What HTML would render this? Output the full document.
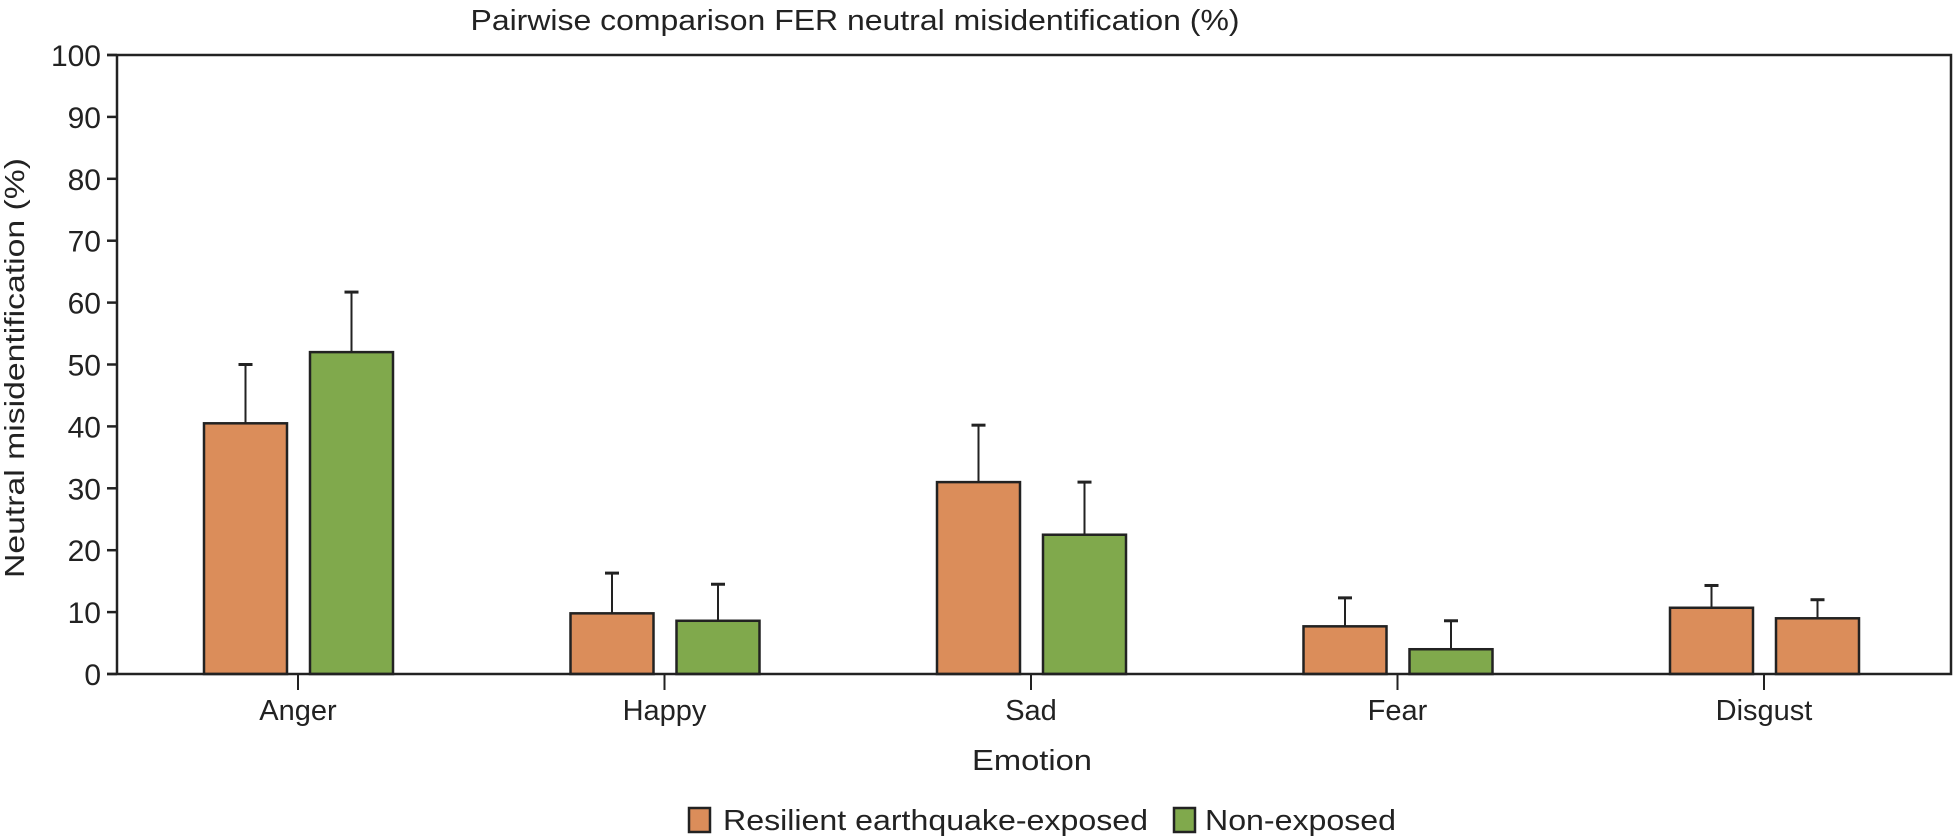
<!DOCTYPE html>
<html><head><meta charset="utf-8"><style>
html,body{margin:0;padding:0;background:#fff;}
svg{display:block;font-family:"Liberation Sans",sans-serif;}
</style></head><body>
<svg id="chart" width="1954" height="840" viewBox="0 0 1954 840">
<text x="855" y="30" text-anchor="middle" font-size="29" fill="#222" textLength="769" lengthAdjust="spacingAndGlyphs">Pairwise comparison FER neutral misidentification (%)</text>
<text transform="translate(24,368) rotate(-90)" text-anchor="middle" font-size="28" fill="#222" textLength="420" lengthAdjust="spacingAndGlyphs">Neutral misidentification (%)</text>
<text x="1032" y="770" text-anchor="middle" font-size="29" fill="#222" textLength="120" lengthAdjust="spacingAndGlyphs">Emotion</text>
<g id="plot"></g>
<g>
<rect x="689" y="808" width="21" height="24" fill="#db8d5a" stroke="#222" stroke-width="2.5"/>
<text x="723" y="830" font-size="29" fill="#222" textLength="425" lengthAdjust="spacingAndGlyphs">Resilient earthquake-exposed</text>
<rect x="1174" y="808" width="21" height="24" fill="#80a94c" stroke="#222" stroke-width="2.5"/>
<text x="1205" y="830" font-size="29" fill="#222" textLength="191" lengthAdjust="spacingAndGlyphs">Non-exposed</text>
</g>
</svg>
<script>
const categories = ["Anger","Happy","Sad","Fear","Disgust"];
const resilientValues = [40.5, 9.8, 31, 7.7, 10.7];
const resilientErrTop = [50, 16.3, 40.2, 12.3, 14.3];
const nonExposedValues = [52, 8.6, 22.5, 4, 9];
const nonExposedErrTop = [61.7, 14.5, 31, 8.6, 12];
const yTicks = [0,10,20,30,40,50,60,70,80,90,100];

const NS = "http://www.w3.org/2000/svg";
const g = document.getElementById('plot');
const X0 = 117, X1 = 1951, Y0 = 674, Y100 = 55;
function y(v){ return Y0 - (v/100)*(Y0-Y100); }
function xc(i){ return 298 + i*366.5; }
function mk(tag, attrs, parent){
  const e = document.createElementNS(NS, tag);
  for (const k in attrs) e.setAttribute(k, attrs[k]);
  (parent||g).appendChild(e);
  return e;
}
const BW = 83;
categories.forEach((c,i)=>{
  const cx = xc(i);
  const defs = [
    {v:resilientValues[i], e:resilientErrTop[i], x:cx-94, fill:'#db8d5a', n:'resilient'},
    {v:nonExposedValues[i], e:nonExposedErrTop[i], x:cx+12, fill:(i===4?'#db8d5a':'#80a94c'), n:'nonexposed'}
  ];
  defs.forEach(d=>{
    const mx = d.x + BW/2;
    const el = mk('line',{x1:mx,x2:mx,y1:y(d.e),y2:y(d.v),stroke:'#222','stroke-width':2});
    
    
    const cap = mk('line',{x1:mx-7,x2:mx+7,y1:y(d.e),y2:y(d.e),stroke:'#222','stroke-width':3});
    
    
    const r = mk('rect',{x:d.x,y:y(d.v),width:BW,height:Y0-y(d.v),fill:d.fill,stroke:'#222','stroke-width':2.5});
    
    
  });
  const t = mk('line',{x1:cx,x2:cx,y1:Y0,y2:Y0+16,stroke:'#222','stroke-width':2});
  
  
  const lb = mk('text',{x:cx,y:Y0+46,'text-anchor':'middle','font-size':29,fill:'#222'});
  lb.textContent = c;
  
  
});
yTicks.forEach(v=>{
  const t = mk('line',{x1:X0-10,x2:X0,y1:y(v),y2:y(v),stroke:'#222','stroke-width':2.5});
  
  
  const lb = mk('text',{x:X0-16,y:y(v)+11,'text-anchor':'end','font-size':30,fill:'#222'});
  lb.textContent = v;
  
  
});
const frame = mk('path',{d:`M${X0-10},${Y100} H${X1} V${Y0} H${X0-10} M${X0},${Y100} V${Y0}`,fill:'none',stroke:'#222','stroke-width':2.5});


</script>
</body></html>
